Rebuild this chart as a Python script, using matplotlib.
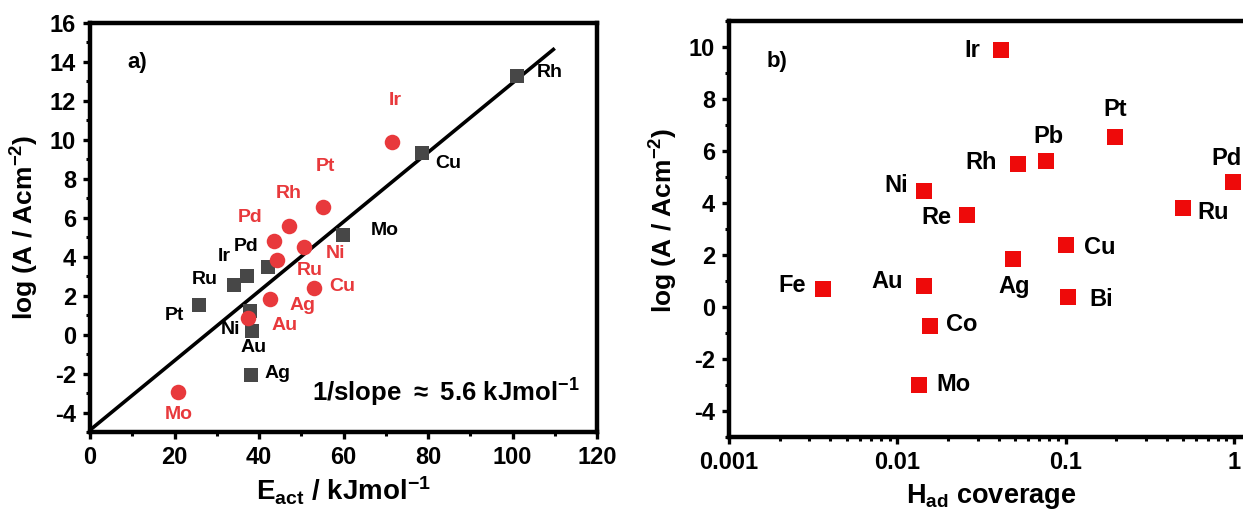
import matplotlib
matplotlib.use("Agg")
import matplotlib.pyplot as plt
from matplotlib.ticker import MultipleLocator, LogLocator, NullFormatter, FixedLocator

plt.rcParams['font.family'] = ['Liberation Sans', 'DejaVu Sans']
plt.rcParams['font.weight'] = 'bold'
plt.rcParams['mathtext.fontset'] = 'custom'
plt.rcParams['mathtext.rm'] = 'Liberation Sans:bold'
plt.rcParams['mathtext.default'] = 'rm'
plt.rcParams['axes.unicode_minus'] = False

# ---- panel a data ----
sq_names = ["Rh", "Cu", "Mo", "Pd", "Ir", "Ru", "Pt", "Ni", "Au", "Ag"]
sq_eact = [101.0, 78.5, 59.9, 42.1, 37.2, 34.2, 25.7, 37.9, 38.3, 38.1]
sq_logA = [13.3, 9.3, 5.1, 3.48, 3.0, 2.57, 1.5, 1.19, 0.21, -2.08]
sq_lab_x = [108.9, 84.9, 69.7, 36.9, 31.7, 27.2, 19.9, 33.2, 38.8, 44.3]
sq_lab_y = [13.46, 8.81, 5.37, 4.54, 4.03, 2.83, 0.98, 0.25, -0.65, -2.0]

ci_names = ["Ir", "Pt", "Rh", "Pd", "Ni", "Ru", "Cu", "Ag", "Au", "Mo"]
ci_eact = [71.5, 55.2, 47.1, 43.6, 50.6, 44.2, 53.0, 42.7, 37.4, 20.9]
ci_logA = [9.9, 6.57, 5.58, 4.8, 4.51, 3.82, 2.41, 1.85, 0.85, -2.94]
ci_lab_x = [72.2, 55.7, 47.1, 37.9, 58.1, 52.0, 59.8, 50.4, 46.0, 21.0]
ci_lab_y = [12.0, 8.64, 7.26, 6.03, 4.17, 3.27, 2.48, 1.5, 0.47, -4.09]

fit_x = [0, 110]
fit_y = [-4.9, 14.7]

# ---- panel b data ----
b_names = ["Ir", "Pt", "Pb", "Rh", "Pd", "Ni", "Re", "Ru", "Cu", "Ag", "Bi", "Fe", "Au", "Co", "Mo"]
b_cov = [0.0416, 0.196, 0.0768, 0.052, 0.984, 0.0145, 0.0259, 0.50, 0.1007, 0.0484, 0.1035, 0.00362, 0.0145, 0.0157, 0.0135]
b_logA = [9.9, 6.53, 5.6, 5.51, 4.79, 4.47, 3.52, 3.79, 2.37, 1.83, 0.37, 0.71, 0.81, -0.72, -2.99]
b_lab_x = [0.0281, 0.196, 0.0789, 0.0317, 0.908, 0.00989, 0.0170, 0.75, 0.16, 0.0492, 0.1624, 0.00236, 0.00867, 0.0242, 0.0217]
b_lab_y = [9.85, 7.58, 6.55, 5.56, 5.72, 4.67, 3.43, 3.64, 2.28, 0.79, 0.30, 0.81, 1.0, -0.69, -2.99]

GRAY = '#474747'
RED_C = '#e8393c'
RED_S = '#ee0a0a'

fig = plt.figure(figsize=(12.43, 5.15), dpi=100)

def style(ax):
    for s in ax.spines.values():
        s.set_linewidth(3.2)
    ax.tick_params(which='major', direction='out', length=5, width=2.4, labelsize=17, pad=5)
    ax.tick_params(which='minor', direction='out', length=3, width=2.2)
    for lab in ax.get_xticklabels() + ax.get_yticklabels():
        lab.set_fontweight('bold')

# ---- panel a ----
ax1 = fig.add_axes([90/1243, 83/515, 507/1243, 409/515])
ax1.plot(fit_x, fit_y, color='black', lw=2.6, zorder=2, solid_capstyle='butt')
ax1.scatter(sq_eact, sq_logA, marker='s', s=95, color=GRAY, linewidths=0, zorder=3)
ax1.scatter(ci_eact, ci_logA, marker='o', s=125, color=RED_C, linewidths=0, zorder=4)
for n, x, y in zip(sq_names, sq_lab_x, sq_lab_y):
    ax1.text(x, y, n, color='black', fontsize=14, fontweight='bold', ha='center', va='center', zorder=5)
for n, x, y in zip(ci_names, ci_lab_x, ci_lab_y):
    ax1.text(x, y, n, color=RED_C, fontsize=14, fontweight='bold', ha='center', va='center', zorder=5)
ax1.text(11.2, 13.97, "a)", fontsize=16, fontweight='bold', ha='center', va='center')
ax1.text(84.2, -3.0, r"1/slope $\approx$ 5.6 kJmol$^{-1}$", fontsize=18.5, fontweight='bold', ha='center', va='center')
ax1.set_xlim(0, 120)
ax1.set_ylim(-5, 16)
ax1.xaxis.set_major_locator(MultipleLocator(20))
ax1.xaxis.set_minor_locator(MultipleLocator(10))
ax1.yaxis.set_major_locator(MultipleLocator(2))
ax1.yaxis.set_minor_locator(MultipleLocator(1))
ax1.set_xlabel(r"E$_{\mathrm{act}}$ / kJmol$^{-1}$", fontsize=20, fontweight='bold', labelpad=4)
ax1.set_ylabel(r"log (A / Acm$^{-2}$)", fontsize=19, fontweight='bold')
ax1.yaxis.set_label_coords(-0.097, 0.5)
style(ax1)

# ---- panel b ----
ax2 = fig.add_axes([729/1243, 78/515, 524/1243, 416/515])
ax2.set_xscale('log')
ax2.scatter(b_cov, b_logA, marker='s', s=118, color=RED_S, linewidths=0, zorder=3)
for n, x, y in zip(b_names, b_lab_x, b_lab_y):
    ax2.text(x, y, n, color='black', fontsize=17, fontweight='bold', ha='center', va='center', zorder=5)
ax2.text(0.00192, 9.43, "b)", fontsize=16, fontweight='bold', ha='center', va='center')
ax2.set_xlim(0.001, 1.3)
ax2.set_ylim(-5, 11)
ax2.xaxis.set_major_locator(FixedLocator([0.001, 0.01, 0.1, 1]))
ax2.set_xticklabels(["0.001", "0.01", "0.1", "1"])
ax2.xaxis.set_minor_locator(LogLocator(base=10, subs=range(2, 10)))
ax2.xaxis.set_minor_formatter(NullFormatter())
ax2.yaxis.set_major_locator(MultipleLocator(2))
ax2.yaxis.set_minor_locator(MultipleLocator(1))
ax2.set_xlabel(r"H$_{\mathrm{ad}}$ coverage", fontsize=19.5, fontweight='bold', labelpad=6)
ax2.set_ylabel(r"log (A / Acm$^{-2}$)", fontsize=19, fontweight='bold')
ax2.yaxis.set_label_coords(-0.094, 0.52)
style(ax2)

fig.savefig("out.png", dpi=100)
